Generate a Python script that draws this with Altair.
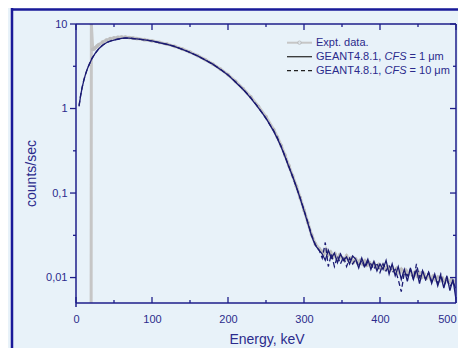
import altair as alt
import pandas as pd

# ---------------- data ----------------
sim_smooth_E = [4, 6, 8, 10, 12, 15, 18, 21, 25, 30,
                35, 40, 45, 50, 55, 60, 65, 70, 75, 80,
                90, 100, 110, 120, 130, 140, 150, 160, 170, 180,
                190, 200, 210, 220, 230, 240, 250, 260, 265, 270,
                275, 280, 285, 290, 295, 300, 305, 310, 315, 320]
sim_tail_E = [324, 328, 332, 336, 340, 344, 348, 352, 356, 360,
              364, 368, 372, 376, 380, 384, 388, 392, 396, 400,
              404, 408, 412, 416, 420, 424, 428, 432, 436, 440,
              444, 448, 452, 456, 460, 464, 468, 472, 476, 480,
              484, 488, 492, 496, 500]

cfs1_smooth = [1.06, 1.4, 1.75, 2.1, 2.45, 2.95, 3.4, 3.9, 4.45, 5.1,
               5.6, 6.0, 6.25, 6.45, 6.6, 6.75, 6.85, 6.8, 6.7, 6.65,
               6.5, 6.3, 6.0, 5.75, 5.4, 5.0, 4.6, 4.2, 3.75, 3.35,
               2.9, 2.5, 2.05, 1.68, 1.33, 1.02, 0.77, 0.54, 0.44, 0.35,
               0.27, 0.205, 0.158, 0.118, 0.086, 0.062, 0.044, 0.031, 0.024, 0.021]
cfs1_tail = [0.019, 0.016, 0.021, 0.017, 0.0195, 0.015, 0.019, 0.016, 0.0175, 0.0145,
             0.018, 0.0165, 0.013, 0.017, 0.0135, 0.0165, 0.0125, 0.0155, 0.012, 0.0145,
             0.0125, 0.016, 0.011, 0.0145, 0.0105, 0.0135, 0.0095, 0.0125, 0.009, 0.013,
             0.0095, 0.0125, 0.0085, 0.012, 0.0095, 0.0115, 0.0085, 0.011, 0.008, 0.0105,
             0.0075, 0.0105, 0.007, 0.0095, 0.0055]

cfs10_smooth = [1.08, 1.42, 1.77, 2.12, 2.47, 2.97, 3.42, 3.92, 4.47, 5.1,
                5.62, 6.02, 6.28, 6.5, 6.62, 6.72, 6.8, 6.82, 6.74, 6.66,
                6.5, 6.28, 6.02, 5.74, 5.42, 5.02, 4.62, 4.18, 3.76, 3.33,
                2.92, 2.49, 2.07, 1.69, 1.34, 1.03, 0.76, 0.55, 0.45, 0.355,
                0.272, 0.207, 0.156, 0.117, 0.087, 0.063, 0.045, 0.032, 0.0245, 0.021]
cfs10_tail = [0.017, 0.026, 0.0135, 0.019, 0.0135, 0.018, 0.0145, 0.0175, 0.0135, 0.017,
              0.0145, 0.0165, 0.0135, 0.016, 0.013, 0.0155, 0.0145, 0.0125, 0.015, 0.0115,
              0.0145, 0.012, 0.014, 0.0115, 0.0125, 0.0095, 0.0068, 0.0115, 0.0105, 0.0125,
              0.0095, 0.0145, 0.01, 0.012, 0.0095, 0.0115, 0.009, 0.0105, 0.0085, 0.011,
              0.008, 0.0095, 0.0078, 0.009, 0.0072]

expt_E = [19.9, 20.2, 22, 24, 26, 28, 30,
          35, 40, 45, 50, 55, 60, 65, 70, 75, 80,
          90, 100, 110, 120, 130, 140, 150, 160, 170, 180,
          190, 200, 210, 220, 230, 240, 250, 260,
          265, 270, 275, 280, 285, 290, 295, 300, 305, 310, 315, 320,
          323, 326, 329, 332, 335, 338, 341, 344, 347, 350,
          353, 356, 359, 362, 365, 368, 371, 374, 377, 380,
          383, 386, 389, 392, 395, 398, 401, 404, 407, 410,
          413, 416, 419, 422, 425, 428, 431, 434, 437, 440,
          443, 446, 449, 452, 455, 458, 461, 464, 467, 470,
          473, 476, 479, 482, 485, 488, 491, 494, 497, 500]
expt_val = [0.003, 10, 5.0, 5.1, 5.3, 5.5, 5.7,
            6.1, 6.45, 6.7, 6.85, 6.95, 7.0, 6.98, 6.92, 6.82, 6.72,
            6.52, 6.32, 6.06, 5.77, 5.43, 5.06, 4.66, 4.23, 3.79, 3.36,
            2.93, 2.52, 2.09, 1.71, 1.37, 1.06, 0.8, 0.565,
            0.46, 0.365, 0.28, 0.212, 0.16, 0.12, 0.088, 0.063, 0.045, 0.032, 0.025, 0.022,
            0.0205, 0.019, 0.0215, 0.0185, 0.02, 0.0175, 0.019, 0.0165, 0.0185, 0.0172,
            0.016, 0.018, 0.0158, 0.017, 0.0152, 0.0165, 0.0148, 0.016, 0.0145, 0.0158,
            0.014, 0.015, 0.0138, 0.0148, 0.0132, 0.0142, 0.0128, 0.014, 0.0125, 0.0135,
            0.0122, 0.0132, 0.0118, 0.0128, 0.0115, 0.0125, 0.0112, 0.0122, 0.011, 0.0119,
            0.0106, 0.0116, 0.0104, 0.0113, 0.0101, 0.011, 0.0098, 0.0107, 0.0096, 0.0104,
            0.0094, 0.0101, 0.0092, 0.0099, 0.009, 0.0097, 0.0088, 0.0095, 0.0086, 0.0092]

x_major = [0, 100, 200, 300, 400, 500]
x_minor = [50, 150, 250, 350, 450]
y_major = [0.01, 0.1, 1, 10]
y_minor = [0.0316, 0.316, 3.16]

# ---------------- styles ----------------
TEXT = "#2b2b8c"
FRAME = "#1e1e8a"
LINE = "#1a1a72"
GRAY = "#c6c6c6"
BG = "#e8f2f9"
FONT = "Liberation Sans"
W, H = 380, 279
PAD_L, PAD_T, PAD_R, PAD_B = 68, 16, 2, 45

sim_E = sim_smooth_E + sim_tail_E
df_c1 = pd.DataFrame({"E": sim_E, "v": cfs1_smooth + cfs1_tail})
df_c10 = pd.DataFrame({"E": sim_E, "v": cfs10_smooth + cfs10_tail})
df_ex = pd.DataFrame({"E": expt_E, "v": expt_val})
dummy = pd.DataFrame({"a": [0]})

xscale = alt.Scale(domain=[0, 500], nice=False, zero=False)
yscale = alt.Scale(type="log", domain=[0.005, 10], nice=False)
xaxis = alt.Axis(title="Energy, keV", values=x_major, ticks=False, tickSize=0, domain=False,
                 grid=False, labelPadding=10, labelFlush=False, format="d",
                 labelAlign={"condition": {"test": "datum.value >= 500", "value": "right"}, "value": "center"},
                 titleX=190.5, titleY=40, titleBaseline="alphabetic", zindex=1)
yaxis = alt.Axis(title="counts/sec", values=y_major, ticks=False, tickSize=0, domain=False,
                 grid=False, labelPadding=9,
                 labelExpr="replace(toString(datum.value), '.', ',')",
                 titleX=-41, titleY=149, titleBaseline="alphabetic", zindex=1)

X = alt.X("E:Q", scale=xscale, axis=xaxis)
Y = alt.Y("v:Q", scale=yscale, axis=yaxis)

expt_line = alt.Chart(df_ex).mark_line(color=GRAY, strokeWidth=3, clip=True).encode(x=X, y=Y)
expt_pts = alt.Chart(df_ex).mark_circle(color="#bdbdbd", size=14, opacity=1, clip=True).encode(x=X, y=Y)
c1_line = alt.Chart(df_c1).mark_line(color=LINE, strokeWidth=1.3, clip=True).encode(x=X, y=Y)
c10_line = alt.Chart(df_c10).mark_line(color=LINE, strokeWidth=1.3, strokeDash=[5, 3], clip=True).encode(x=X, y=Y)

def xticks(vals, y0, y1):
    return alt.Chart(pd.DataFrame({"E": vals})).mark_rule(color=FRAME, strokeWidth=1.3).encode(
        x=X, y=alt.value(y0), y2=alt.value(y1))

def yticks(vals, x0, x1):
    return alt.Chart(pd.DataFrame({"v": vals})).mark_rule(color=FRAME, strokeWidth=1.3).encode(
        y=Y, x=alt.value(x0), x2=alt.value(x1))

ticks = [
    xticks(x_major, H, H - 6), xticks(x_minor, H, H - 3),
    xticks(x_major, 0, 6), xticks(x_minor, 0, 3),
    yticks(y_major, -6, 0), yticks(y_minor, -3, 0),
    yticks(y_major, W, W - 6), yticks(y_minor, W, W - 3),
]

# ---------------- legend ----------------
LX0, LX1, TX = 211, 236, 240
R1, R2, R3 = 18.7, 32.7, 46.7

def seg(y, color, dash=None, width=1.3):
    kw = dict(color=color, strokeWidth=width)
    if dash:
        kw["strokeDash"] = dash
    return alt.Chart(dummy).mark_rule(**kw).encode(
        x=alt.value(LX0), x2=alt.value(LX1), y=alt.value(y))

def txt(s, x, y, italic=False):
    kw = dict(text=s, font=FONT, fontSize=11, color=TEXT, align="left", baseline="middle")
    if italic:
        kw["fontStyle"] = "italic"
    return alt.Chart(dummy).mark_text(**kw).encode(x=alt.value(x), y=alt.value(y))

legend = [
    seg(R1, GRAY, width=2),
    alt.Chart(dummy).mark_point(shape="circle", size=12, color="#b0b0b0", fill=BG,
                                filled=False, strokeWidth=1).encode(x=alt.value(223.5), y=alt.value(R1)),
    seg(R2, "#333333", width=1.3),
    seg(R3, "#222222", dash=[4, 3], width=1.3),
    txt("Expt. data.", TX, R1),
    txt("GEANT4.8.1,", TX, R2), txt("CFS", 308.5, R2, True), txt("= 1 \u03bcm", 333.6, R2),
    txt("GEANT4.8.1,", TX, R3), txt("CFS", 308.5, R3, True), txt("= 10 \u03bcm", 333.6, R3),
]

# ---------------- frame (plot box and outer border) ----------------
box = [
    alt.Chart(dummy).mark_rule(color=FRAME, strokeWidth=1.5).encode(x=alt.value(0), y=alt.value(0), y2=alt.value(H + 4)),
    alt.Chart(dummy).mark_rule(color=FRAME, strokeWidth=1.5).encode(x=alt.value(W), y=alt.value(0), y2=alt.value(H)),
    alt.Chart(dummy).mark_rule(color=FRAME, strokeWidth=1.5).encode(y=alt.value(0), x=alt.value(0), x2=alt.value(W)),
    alt.Chart(dummy).mark_rule(color=FRAME, strokeWidth=1.5).encode(y=alt.value(H), x=alt.value(0), x2=alt.value(W)),
    alt.Chart(dummy).mark_rule(color="#1a1a99", strokeWidth=2.5).encode(
        x=alt.value(-64), y=alt.value(-PAD_T), y2=alt.value(H + PAD_B)),
    alt.Chart(dummy).mark_rule(color="#1a1a99", strokeWidth=2.5).encode(
        y=alt.value(-14.5), x=alt.value(-65), x2=alt.value(W + PAD_R)),
]

chart = alt.layer(expt_line, expt_pts, c1_line, c10_line, *ticks, *legend, *box).properties(
    width=W, height=H,
    autosize=alt.AutoSizeParams(type="none"),
    padding={"left": PAD_L, "top": PAD_T, "right": PAD_R, "bottom": PAD_B},
    background=BG,
).configure_view(
    stroke=None
).configure_axis(
    labelFont=FONT, titleFont=FONT, labelColor=TEXT, titleColor=TEXT,
    labelFontSize=11, titleFontSize=14, titleFontWeight="normal"
)

chart.save("out.html", embed_options={"renderer": "svg", "actions": False})
